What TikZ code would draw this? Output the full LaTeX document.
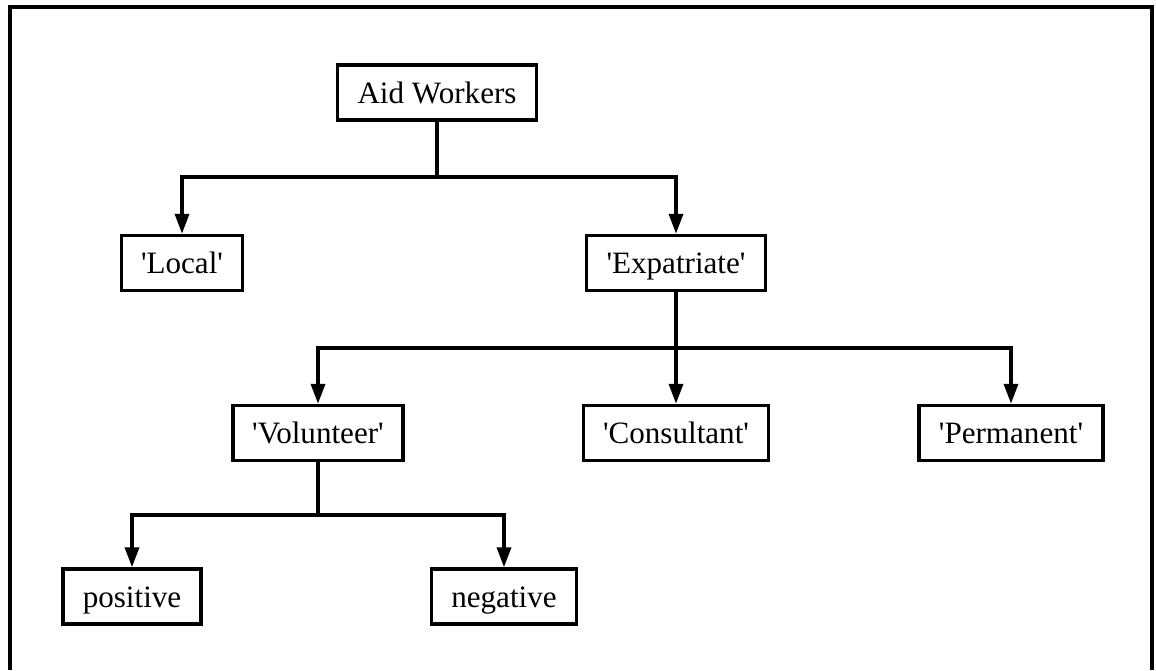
\documentclass[tikz,border=0pt]{standalone}
\usepackage{fontspec}
\setmainfont{Liberation Serif}
\usetikzlibrary{arrows.meta}

\begin{document}
\begin{tikzpicture}[x=0.02cm,y=-0.02cm,
        box/.style={draw,line width=2pt,minimum height=1.1cm,inner sep=0pt,
            text height=0.55cm,text depth=0.13cm,
            font=\fontsize{17.7}{21}\selectfont},
        link/.style={line width=2pt},
        arr/.style={link,-{Triangle[length=0.4cm,width=0.28cm]}}]
        % Frame (open at the bottom)
        \useasboundingbox (0,0) rectangle (1156,670);
        \draw [link] (10,670) |- (1152,7) -- (1152,670);

        % Boxes
        \node[box,minimum width=3.98cm] (aid) at (437,92.5) {Aid Workers};
        \node[box,minimum width=2.42cm] (local) at (182,263) {\textquotesingle Local\textquotesingle};
        \node[box,minimum width=3.58cm] (expat) at (676,263) {\textquotesingle Expatriate\textquotesingle};
        \node[box,minimum width=3.4cm] (vol) at (318,433) {\textquotesingle Volunteer\textquotesingle};
        \node[box,minimum width=3.7cm] (cons) at (676,433) {\textquotesingle Consultant\textquotesingle};
        \node[box,minimum width=3.68cm] (perm) at (1011,433) {\textquotesingle Permanent\textquotesingle};
        \node[box,minimum width=2.76cm] (pos) at (132,596.5) {positive};
        \node[box,minimum width=2.9cm] (neg) at (504,596.5) {negative};

        % Branch points
        \coordinate (j_1) at (437,177);
        \coordinate (j_2) at (676,348);
        \coordinate (j_3) at (318,515);

        % Connectors
        \draw [link] (aid.south) -- (j_1);
        \foreach \c in {local,expat}
           {
                \draw [arr] (j_1) -| (\c.north);
           }
        \draw [link] (expat.south) -- (j_2);
        \foreach \c in {vol,cons,perm}
           {
                \draw [arr] (j_2) -| (\c.north);
           }
        \draw [link] (vol.south) -- (j_3);
        \foreach \c in {pos,neg}
           {
                \draw [arr] (j_3) -| (\c.north);
           }
    \end{tikzpicture}
\end{document}
